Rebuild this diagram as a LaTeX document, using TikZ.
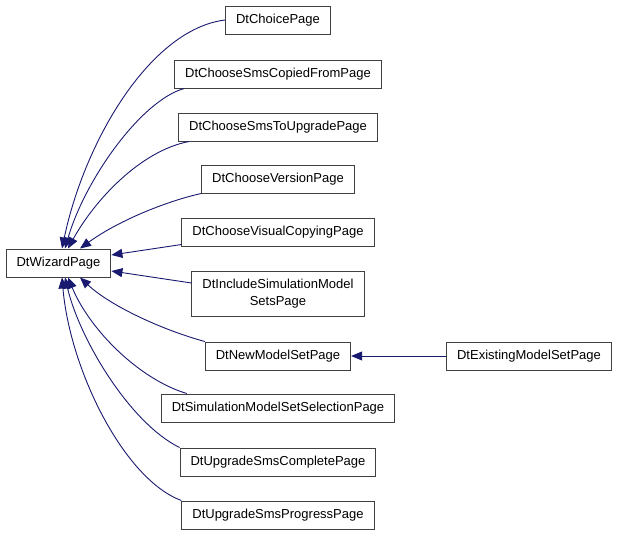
\documentclass[tikz,border=0pt]{standalone}
\usepackage{fontspec}
\setmainfont{Liberation Sans}
\usetikzlibrary{arrows.meta}
\definecolor{edgeblue}{HTML}{191970}
\definecolor{boxline}{HTML}{404040}

\begin{document}
\begin{tikzpicture}[
    x=1pt, y=-1pt,
    box/.style={rectangle, draw=boxline, line width=1pt, fill=white, minimum height=28pt, inner xsep=10.5pt, align=center, font=\fontsize{13}{17}\selectfont},
    arrow/.style={-{Triangle[length=11pt, width=9pt]}, edgeblue, line width=0.9pt}
]
\useasboundingbox (0,0) rectangle (619,536);

% Base class
\node[box] (wizard) at (58.5,263) {DtWizardPage};

% Derived classes
\node[box] (choice) at (278,20) {DtChoicePage};
\node[box] (copied) at (278,74) {DtChooseSmsCopiedFromPage};
\node[box] (toupgrade) at (278,127) {DtChooseSmsToUpgradePage};
\node[box] (version) at (278,179) {DtChooseVersionPage};
\node[box] (visual) at (278,232) {DtChooseVisualCopyingPage};
\node[box, minimum height=45pt] (include) at (278,294) {DtIncludeSimulationModel\\SetsPage};
\node[box] (newset) at (278,356) {DtNewModelSetPage};
\node[box] (selection) at (278,408) {DtSimulationModelSetSelectionPage};
\node[box] (complete) at (278,462) {DtUpgradeSmsCompletePage};
\node[box] (progress) at (278,515) {DtUpgradeSmsProgressPage};

% Second level
\node[box] (existing) at (529,356) {DtExistingModelSetPage};

% Inheritance edges
\draw[arrow] (choice.west) .. controls +(-74,9) and +(23,-109) .. ([xshift=3.5pt]wizard.north);
\draw[arrow] ([xshift=10pt]copied.south west) .. controls +(-43,12) and +(20,-69) .. ([xshift=6.5pt]wizard.north);
\draw[arrow] ([xshift=11pt]toupgrade.south west) .. controls +(-48,9) and +(27,-49) .. ([xshift=9.5pt]wizard.north);
\draw[arrow] (version.south west) .. controls +(-32,7) and +(40,-29) .. ([xshift=21.5pt]wizard.north);
\draw[arrow] ([yshift=2pt]visual.south west) -- ([yshift=8pt]wizard.east);
\draw[arrow] ([yshift=11pt]include.west) -- ([yshift=-8pt]wizard.east);
\draw[arrow] (newset.north west) .. controls +(-44,-12) and +(30,28) .. ([xshift=21.5pt]wizard.south);
\draw[arrow] ([xshift=26pt]selection.north west) .. controls +(-47,-14) and +(22,53) .. ([xshift=9.5pt]wizard.south);
\draw[arrow] (complete.north west) .. controls +(-49,-24) and +(15,63) .. ([xshift=6.5pt]wizard.south);
\draw[arrow] (progress.north west) .. controls +(-57,-21) and +(8,93) .. ([xshift=3.5pt]wizard.south);

\draw[arrow] (existing) -- (newset);

\end{tikzpicture}
\end{document}
